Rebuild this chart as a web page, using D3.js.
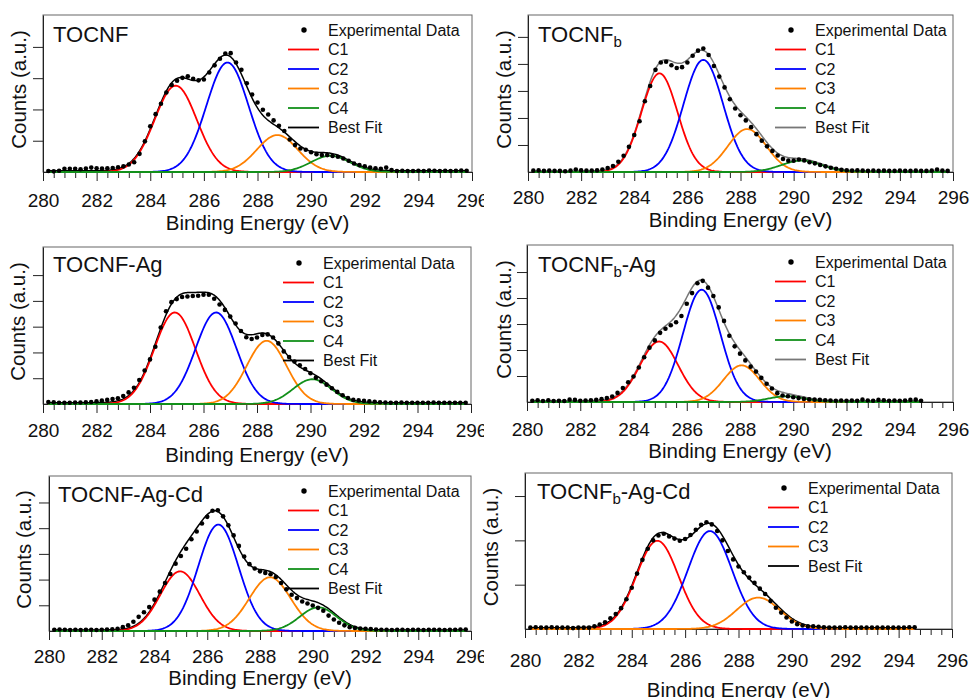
<!DOCTYPE html>
<html lang="en">
<head>
<meta charset="UTF-8">
<script src="https://cdn.jsdelivr.net/npm/d3@7"></script>
<style>
    body { margin: 0; background: #fff; }
    svg { display: block; font-family: "Liberation Sans", Arial, sans-serif; }
</style>
<title>C 1s XPS</title>
</head>
<body>
<div id="fig"></div>
<script>
// energy grid of the scans (eV) and axis ticks
const energyStart = 280.2;
const energyStep = 0.2;
const xTicks = [280, 282, 284, 286, 288, 290, 292, 294, 296];

// experimental counts (a.u.), one value per 0.2 eV
const tocnfCounts = [0.03, 0.02, 0.04, 0.10, 0.10, 0.10, 0.09, 0.11, 0.14, 0.12,
    0.11, 0.12, 0.13, 0.15, 0.18, 0.24, 0.31, 0.58, 0.98, 1.46,
    1.85, 2.18, 2.54, 2.78, 2.92, 3.01, 3.06, 2.98, 2.93, 2.96,
    3.18, 3.41, 3.62, 3.79, 3.80, 3.50, 3.27, 2.84, 2.48, 2.22,
    1.99, 1.84, 1.65, 1.48, 1.31, 1.04, 0.86, 0.75, 0.71, 0.63,
    0.57, 0.54, 0.54, 0.51, 0.49, 0.43, 0.36, 0.27, 0.22, 0.18,
    0.14, 0.12, 0.10, 0.14, 0.06, 0.03, 0.04, 0.03, 0.03, 0.04,
    0.03, 0.05, 0.04, 0.03, 0.04, 0.03, 0.04, 0.05, 0.04];
const tocnfBCounts = [0.05, 0.06, 0.04, 0.05, 0.04, 0.04, 0.03, 0.05, 0.09, 0.06,
    0.05, 0.05, 0.06, 0.09, 0.15, 0.22, 0.38, 0.60, 0.93, 1.37,
    1.88, 2.62, 3.18, 3.78, 4.05, 4.08, 3.95, 3.85, 3.88, 4.05,
    4.30, 4.49, 4.57, 4.33, 3.92, 3.53, 3.13, 2.69, 2.35, 2.10,
    1.91, 1.66, 1.40, 1.16, 0.95, 0.78, 0.61, 0.48, 0.42, 0.42,
    0.46, 0.43, 0.36, 0.32, 0.26, 0.21, 0.16, 0.12, 0.08, 0.06,
    0.05, 0.06, 0.05, 0.04, 0.05, 0.04, 0.05, 0.04, 0.04, 0.05,
    0.04, 0.04, 0.05, 0.04, 0.04, 0.05, 0.09, 0.05, 0.04];
const tocnfAgCounts = [0.08, 0.07, 0.05, 0.05, 0.05, 0.06, 0.06, 0.07, 0.08, 0.10,
    0.13, 0.16, 0.19, 0.22, 0.31, 0.45, 0.63, 0.93, 1.30, 1.73,
    2.22, 2.97, 3.60, 3.95, 4.07, 4.15, 4.17, 4.19, 4.20, 4.24,
    4.24, 4.08, 3.86, 3.65, 3.39, 3.12, 2.83, 2.59, 2.52, 2.58,
    2.68, 2.70, 2.58, 2.35, 2.04, 1.82, 1.65, 1.50, 1.36, 1.19,
    1.02, 0.88, 0.75, 0.61, 0.47, 0.34, 0.23, 0.16, 0.14, 0.12,
    0.10, 0.09, 0.07, 0.06, 0.05, 0.05, 0.06, 0.05, 0.05, 0.05,
    0.05, 0.05, 0.06, 0.05, 0.05, 0.05, 0.05, 0.05, 0.05];
const tocnfBAgCounts = [0.05, 0.07, 0.04, 0.07, 0.04, 0.05, 0.04, 0.09, 0.08, 0.05,
    0.06, 0.07, 0.08, 0.11, 0.15, 0.21, 0.35, 0.54, 0.76, 0.98,
    1.33, 1.72, 2.09, 2.37, 2.66, 2.82, 2.95, 3.07, 3.31, 3.78,
    4.19, 4.57, 4.66, 4.40, 4.08, 3.64, 3.12, 2.55, 2.14, 1.86,
    1.60, 1.36, 1.17, 0.93, 0.70, 0.52, 0.34, 0.25, 0.22, 0.18,
    0.15, 0.12, 0.10, 0.09, 0.08, 0.07, 0.06, 0.05, 0.06, 0.05,
    0.06, 0.05, 0.09, 0.06, 0.05, 0.08, 0.07, 0.05, 0.06, 0.05,
    0.06, 0.08, 0.09, 0.05];
const tocnfAgCdCounts = [0.05, 0.06, 0.05, 0.04, 0.05, 0.04, 0.05, 0.05, 0.04, 0.05,
    0.06, 0.07, 0.09, 0.15, 0.22, 0.36, 0.55, 0.73, 0.93, 1.22,
    1.53, 1.87, 2.22, 2.62, 2.92, 3.20, 3.57, 3.87, 4.18, 4.44,
    4.68, 4.70, 4.46, 4.11, 3.72, 3.31, 2.90, 2.60, 2.43, 2.32,
    2.26, 2.21, 2.10, 1.87, 1.62, 1.41, 1.28, 1.15, 1.07, 0.99,
    0.90, 0.79, 0.60, 0.45, 0.32, 0.22, 0.15, 0.12, 0.10, 0.09,
    0.08, 0.06, 0.05, 0.05, 0.04, 0.05, 0.05, 0.04, 0.05, 0.05,
    0.04, 0.05, 0.05, 0.05, 0.04, 0.05, 0.05, 0.06, 0.06];
const tocnfBAgCdCounts = [0.03, 0.04, 0.03, 0.03, 0.04, 0.03, 0.03, 0.03, 0.02, 0.03,
    0.03, 0.03, 0.06, 0.10, 0.15, 0.24, 0.34, 0.47, 0.67, 0.93,
    1.25, 1.56, 1.81, 2.00, 2.11, 2.15, 2.09, 2.04, 1.99, 2.03,
    2.12, 2.24, 2.35, 2.41, 2.36, 2.21, 2.00, 1.76, 1.57, 1.41,
    1.28, 1.16, 1.04, 0.91, 0.79, 0.63, 0.48, 0.37, 0.26, 0.17,
    0.11, 0.08, 0.06, 0.06, 0.05, 0.04, 0.03, 0.03, 0.03, 0.04,
    0.03, 0.03, 0.03, 0.03, 0.03, 0.03, 0.03, 0.03, 0.03, 0.03,
    0.03, 0.04, 0.04];

// fitted components: [centre (eV), height, FWHM (eV)]
const tocnfPeaks = [[284.95, 2.76, 1.85], [286.88, 3.50, 1.85], [288.74, 1.18, 1.80], [290.72, 0.52, 1.70]];
const tocnfBPeaks = [[284.95, 3.65, 1.60], [286.60, 4.15, 1.75], [288.25, 1.59, 1.70], [290.30, 0.42, 1.80]];
const tocnfAgPeaks = [[284.93, 3.55, 1.80], [286.47, 3.55, 1.80], [288.36, 2.45, 1.75], [290.07, 0.96, 1.70]];
const tocnfBAgPeaks = [[284.96, 2.33, 1.69], [286.56, 4.32, 1.66], [288.06, 1.41, 1.60], [289.75, 0.22, 1.60]];
const tocnfAgCdPeaks = [[284.97, 2.32, 1.77], [286.42, 4.14, 1.80], [288.38, 2.09, 1.85], [290.21, 0.92, 1.65]];
const tocnfBAgCdPeaks = [[284.96, 1.99, 1.85], [286.93, 2.21, 1.94], [288.74, 0.71, 1.90]];

const peakNames = ["C1", "C2", "C3", "C4"];
const peakColors = ["#ff0000", "#0000ff", "#ff8000", "#12901a"];

// layout of the six panels (plot frame in px)
const panels = [
    { name: "TOCNF", sub: "", tail: "", counts: tocnfCounts, peaks: tocnfPeaks, bg: 0.04,
      left: 43, right: 472, top: 15, bottom: 172, yMax: 5.02, yTicks: [1, 2, 3, 4],
      fit: "#000", lab: 35, xt: 58, yt: 17, leg: [285, 15], ttl: [10, 27], clip: true },
    { name: "TOCNF", sub: "b", tail: "", counts: tocnfBCounts, peaks: tocnfBPeaks, bg: 0.04,
      left: 528, right: 953, top: 15, bottom: 172, yMax: 5.81, yTicks: [1, 2, 3, 4, 5],
      fit: "#777", lab: 32, xt: 55, yt: 17, leg: [287, 15], ttl: [10, 27], clip: false },
    { name: "TOCNF-Ag", sub: "", tail: "", counts: tocnfAgCounts, peaks: tocnfAgPeaks, bg: 0.05,
      left: 43, right: 471, top: 247, bottom: 404, yMax: 6.09, yTicks: [1, 2, 3, 4, 5],
      fit: "#000", lab: 33, xt: 58, yt: 18, leg: [280, 16], ttl: [10, 25], clip: true },
    { name: "TOCNF", sub: "b", tail: "-Ag", counts: tocnfBAgCounts, peaks: tocnfBAgPeaks, bg: 0.05,
      left: 527, right: 953, top: 245, bottom: 402, yMax: 6.04, yTicks: [1, 2, 3, 4, 5],
      fit: "#777", lab: 34, xt: 56, yt: 16, leg: [288, 17], ttl: [11, 27], clip: false },
    { name: "TOCNF-Ag-Cd", sub: "", tail: "", counts: tocnfAgCdCounts, peaks: tocnfAgCdPeaks, bg: 0.04,
      left: 49, right: 471, top: 476, bottom: 631, yMax: 6.03, yTicks: [1, 2, 3, 4, 5],
      fit: "#000", lab: 32, xt: 54, yt: 18, leg: [279, 15], ttl: [9, 26], clip: true },
    { name: "TOCNF", sub: "b", tail: "-Ag-Cd", counts: tocnfBAgCdCounts, peaks: tocnfBAgCdPeaks, bg: 0.03,
      left: 525, right: 952, top: 473, bottom: 629, yMax: 3.52, yTicks: [1, 2, 3],
      fit: "#000", lab: 38, xt: 68, yt: 27, leg: [283, 15], ttl: [12, 26], clip: false }
];

const width = 971, height = 698;
const svg = d3.select("#fig").append("svg")
    .attr("width", width)
    .attr("height", height);
svg.append("rect").attr("width", width).attr("height", height).attr("fill", "#fff");

// left column is cut off just before the right column starts
svg.append("clipPath").attr("id", "leftcut")
    .append("rect").attr("x", 0).attr("y", 0).attr("width", 484).attr("height", height);

const gauss = (p, e) => {
    const s = p[2] / 2.3548;
    return p[1] * Math.exp(-((e - p[0]) ** 2) / (2 * s * s));
};

panels.forEach(p => {
    const g = svg.append("g");
    if (p.clip) g.attr("clip-path", "url(#leftcut)");

    const x = d3.scaleLinear().domain([280, 296]).range([p.left, p.right]);
    const y = d3.scaleLinear().domain([0, p.yMax]).range([p.bottom, p.top]);

    const pts = p.counts.map((c, i) => ({ e: energyStart + i * energyStep, c: c }));
    const eMax = pts[pts.length - 1].e;
    const grid = d3.range(280.2, eMax + 0.001, 0.04);

    // frame
    g.append("rect")
        .attr("x", p.left).attr("y", p.top)
        .attr("width", p.right - p.left).attr("height", p.bottom - p.top)
        .attr("fill", "none").attr("stroke", "#666").attr("stroke-width", 1);

    // x axis with minor ticks every 0.4 eV
    const minor = d3.range(0, 41).map(i => 280 + i * 0.4).filter(v => Math.abs(v / 2 - Math.round(v / 2)) > 0.01);
    g.append("g")
        .attr("transform", `translate(0,${p.bottom})`)
        .call(d3.axisBottom(x).tickValues(minor).tickSize(6).tickFormat(""))
        .call(a => a.select(".domain").remove())
        .selectAll("line").attr("stroke", "#222");
    const xAxis = g.append("g")
        .attr("transform", `translate(0,${p.bottom})`)
        .call(d3.axisBottom(x).tickValues(xTicks).tickSize(9).tickSizeOuter(0).tickFormat(d3.format("d")));
    xAxis.select(".domain").attr("stroke", "#222");
    xAxis.selectAll("line").attr("stroke", "#222");
    xAxis.selectAll("text")
        .attr("y", p.lab).attr("dy", null)
        .attr("font-size", 19).attr("fill", "#111")
        .attr("font-family", "Liberation Sans, Arial, sans-serif");

    // y axis, ticks only
    const yAxis = g.append("g")
        .attr("transform", `translate(${p.left},0)`)
        .call(d3.axisLeft(y).tickValues(p.yTicks).tickSize(10).tickSizeOuter(0).tickFormat(""));
    yAxis.select(".domain").attr("stroke", "#222");
    yAxis.selectAll("line").attr("stroke", "#222");

    // axis titles
    g.append("text")
        .attr("x", (p.left + p.right) / 2).attr("y", p.bottom + p.xt)
        .attr("text-anchor", "middle").attr("font-size", 20.5).attr("fill", "#111")
        .text("Binding Energy (eV)");
    g.append("text")
        .attr("transform", `translate(${p.left - p.yt},${(p.top + p.bottom) / 2 - 4}) rotate(-90)`)
        .attr("text-anchor", "middle").attr("font-size", 20.5).attr("fill", "#111")
        .text("Counts (a.u.)");

    // best fit = sum of components on a flat background
    const fitLine = d3.line()
        .x(e => x(e))
        .y(e => y(p.bg + d3.sum(p.peaks, pk => gauss(pk, e))));
    g.append("path")
        .attr("d", fitLine(grid))
        .attr("fill", "none").attr("stroke", p.fit).attr("stroke-width", 1.5);

    // fitted components
    p.peaks.forEach((pk, i) => {
        const line = d3.line().x(e => x(e)).y(e => y(gauss(pk, e)));
        g.append("path")
            .attr("d", line(grid))
            .attr("fill", "none").attr("stroke", peakColors[i]).attr("stroke-width", 1.8);
    });

    // experimental points
    g.selectAll("circle.pt")
        .data(pts)
        .enter()
        .append("circle")
        .attr("class", "pt")
        .attr("cx", d => x(d.e))
        .attr("cy", d => y(d.c))
        .attr("r", 2.3)
        .attr("fill", "#000");

    // sample title
    const t = g.append("text")
        .attr("x", p.left + p.ttl[0]).attr("y", p.top + p.ttl[1])
        .attr("font-size", 22).attr("fill", "#111");
    t.append("tspan").text(p.name);
    if (p.sub) {
        t.append("tspan").attr("font-size", 15).attr("dy", 5).text(p.sub);
        if (p.tail) t.append("tspan").attr("dy", -5).text(p.tail);
    }

    // legend
    const lx = p.left + p.leg[0], ly = p.top + p.leg[1];
    const rows = [{ label: "Experimental Data", kind: "dot" }]
        .concat(p.peaks.map((pk, i) => ({ label: peakNames[i], kind: "line", color: peakColors[i] })))
        .concat([{ label: "Best Fit", kind: "line", color: p.fit }]);
    rows.forEach((r, i) => {
        const cy = ly + i * 19.5;
        if (r.kind === "dot") {
            g.append("circle").attr("cx", lx - 24).attr("cy", cy).attr("r", 2.7).attr("fill", "#000");
        } else {
            g.append("line")
                .attr("x1", lx - 40).attr("x2", lx - 9)
                .attr("y1", cy).attr("y2", cy)
                .attr("stroke", r.color).attr("stroke-width", 1.8);
        }
        g.append("text")
            .attr("x", lx).attr("y", cy).attr("dy", "0.35em")
            .attr("font-size", 16).attr("fill", "#111")
            .text(r.label);
    });
});
</script>
</body>
</html>
